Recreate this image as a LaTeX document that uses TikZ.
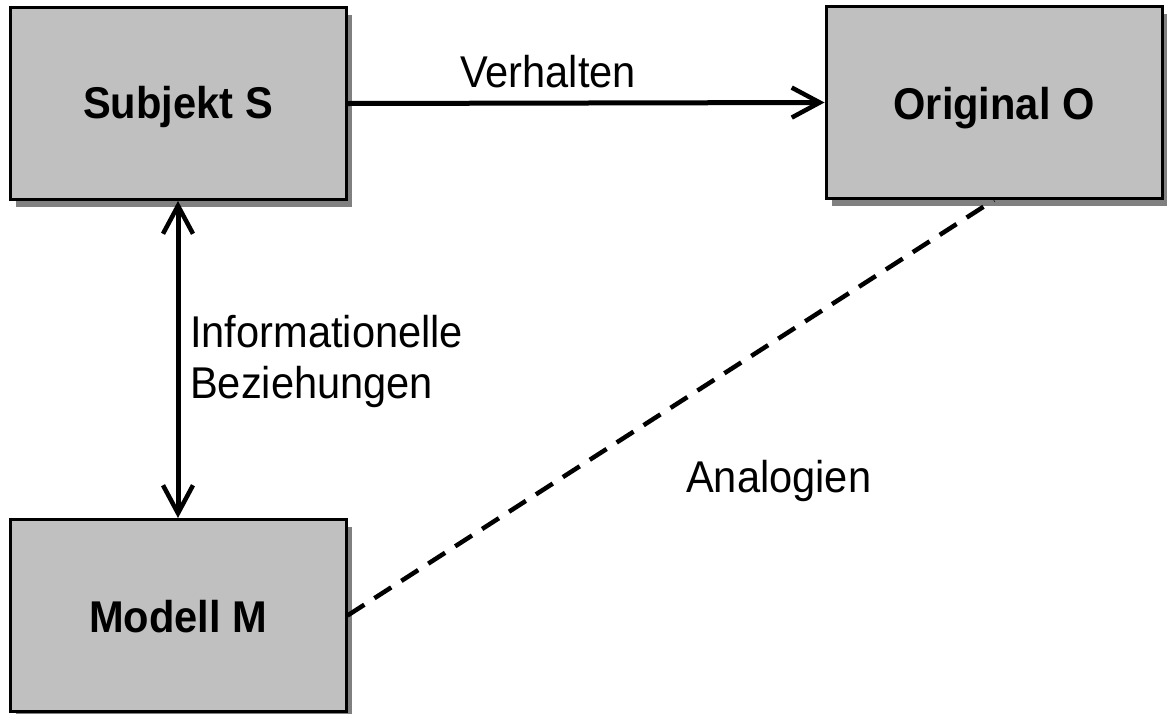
\documentclass[tikz,border=0pt]{standalone}
\usepackage{fontspec}
\setmainfont{Liberation Sans}
\usetikzlibrary{arrows.meta,shadows}
\definecolor{boxfill}{HTML}{C0C0C0}
\definecolor{shadowgray}{HTML}{808080}
\tikzset{barb/.tip={Straight Barb[length=28pt, width=30pt, line width=4.5pt]}}
\begin{document}
\begin{tikzpicture}[x=1pt,y=-1pt,
  box/.style={draw=black, line width=3pt, fill=boxfill, rectangle,
    minimum width=336pt, minimum height=192pt, inner sep=0pt,
    drop shadow={shadow xshift=6pt, shadow yshift=-7pt, fill=shadowgray, opacity=1}},
  title/.style={font=\fontsize{44.5}{52}\selectfont\bfseries, inner sep=0pt,
    anchor=base, xscale=0.935, transform shape},
  lbl/.style={font=\fontsize{44.5}{52}\selectfont, inner sep=0pt,
    anchor=base west, xscale=0.935, transform shape},
  conn/.style={line width=5pt, draw=black}]
  \useasboundingbox (0,0) rectangle (1167,713);

  % boxes
  \node[box] (S) at (178,103.5) {};
  \node[box] (O) at (994,102.5) {};
  \node[box] (M) at (178,615.5) {};

  % box titles
  \node[title] (St) at (178,118) {Subjekt S};
  \node[title] (Ot) at (994,119) {Original O};
  \node[title] (Mt) at (178,632) {Modell M};

  % connectors
  \draw[conn, -{barb}] (S.east) -- (O.west);
  \draw[conn, {barb}-{barb}] (S.south) -- (M.north);
  \draw[conn, line width=4.5pt, dash pattern=on 20pt off 12pt] (M.east) -- (O.south);

  % labels
  \node[lbl] (verh) at (460,87) {Verhalten};
  \node[lbl] (info1) at (190,347) {Informationelle};
  \node[lbl] (info2) at (190,398) {Beziehungen};
  \node[lbl] (anal) at (686,492) {Analogien};
\end{tikzpicture}
\end{document}
